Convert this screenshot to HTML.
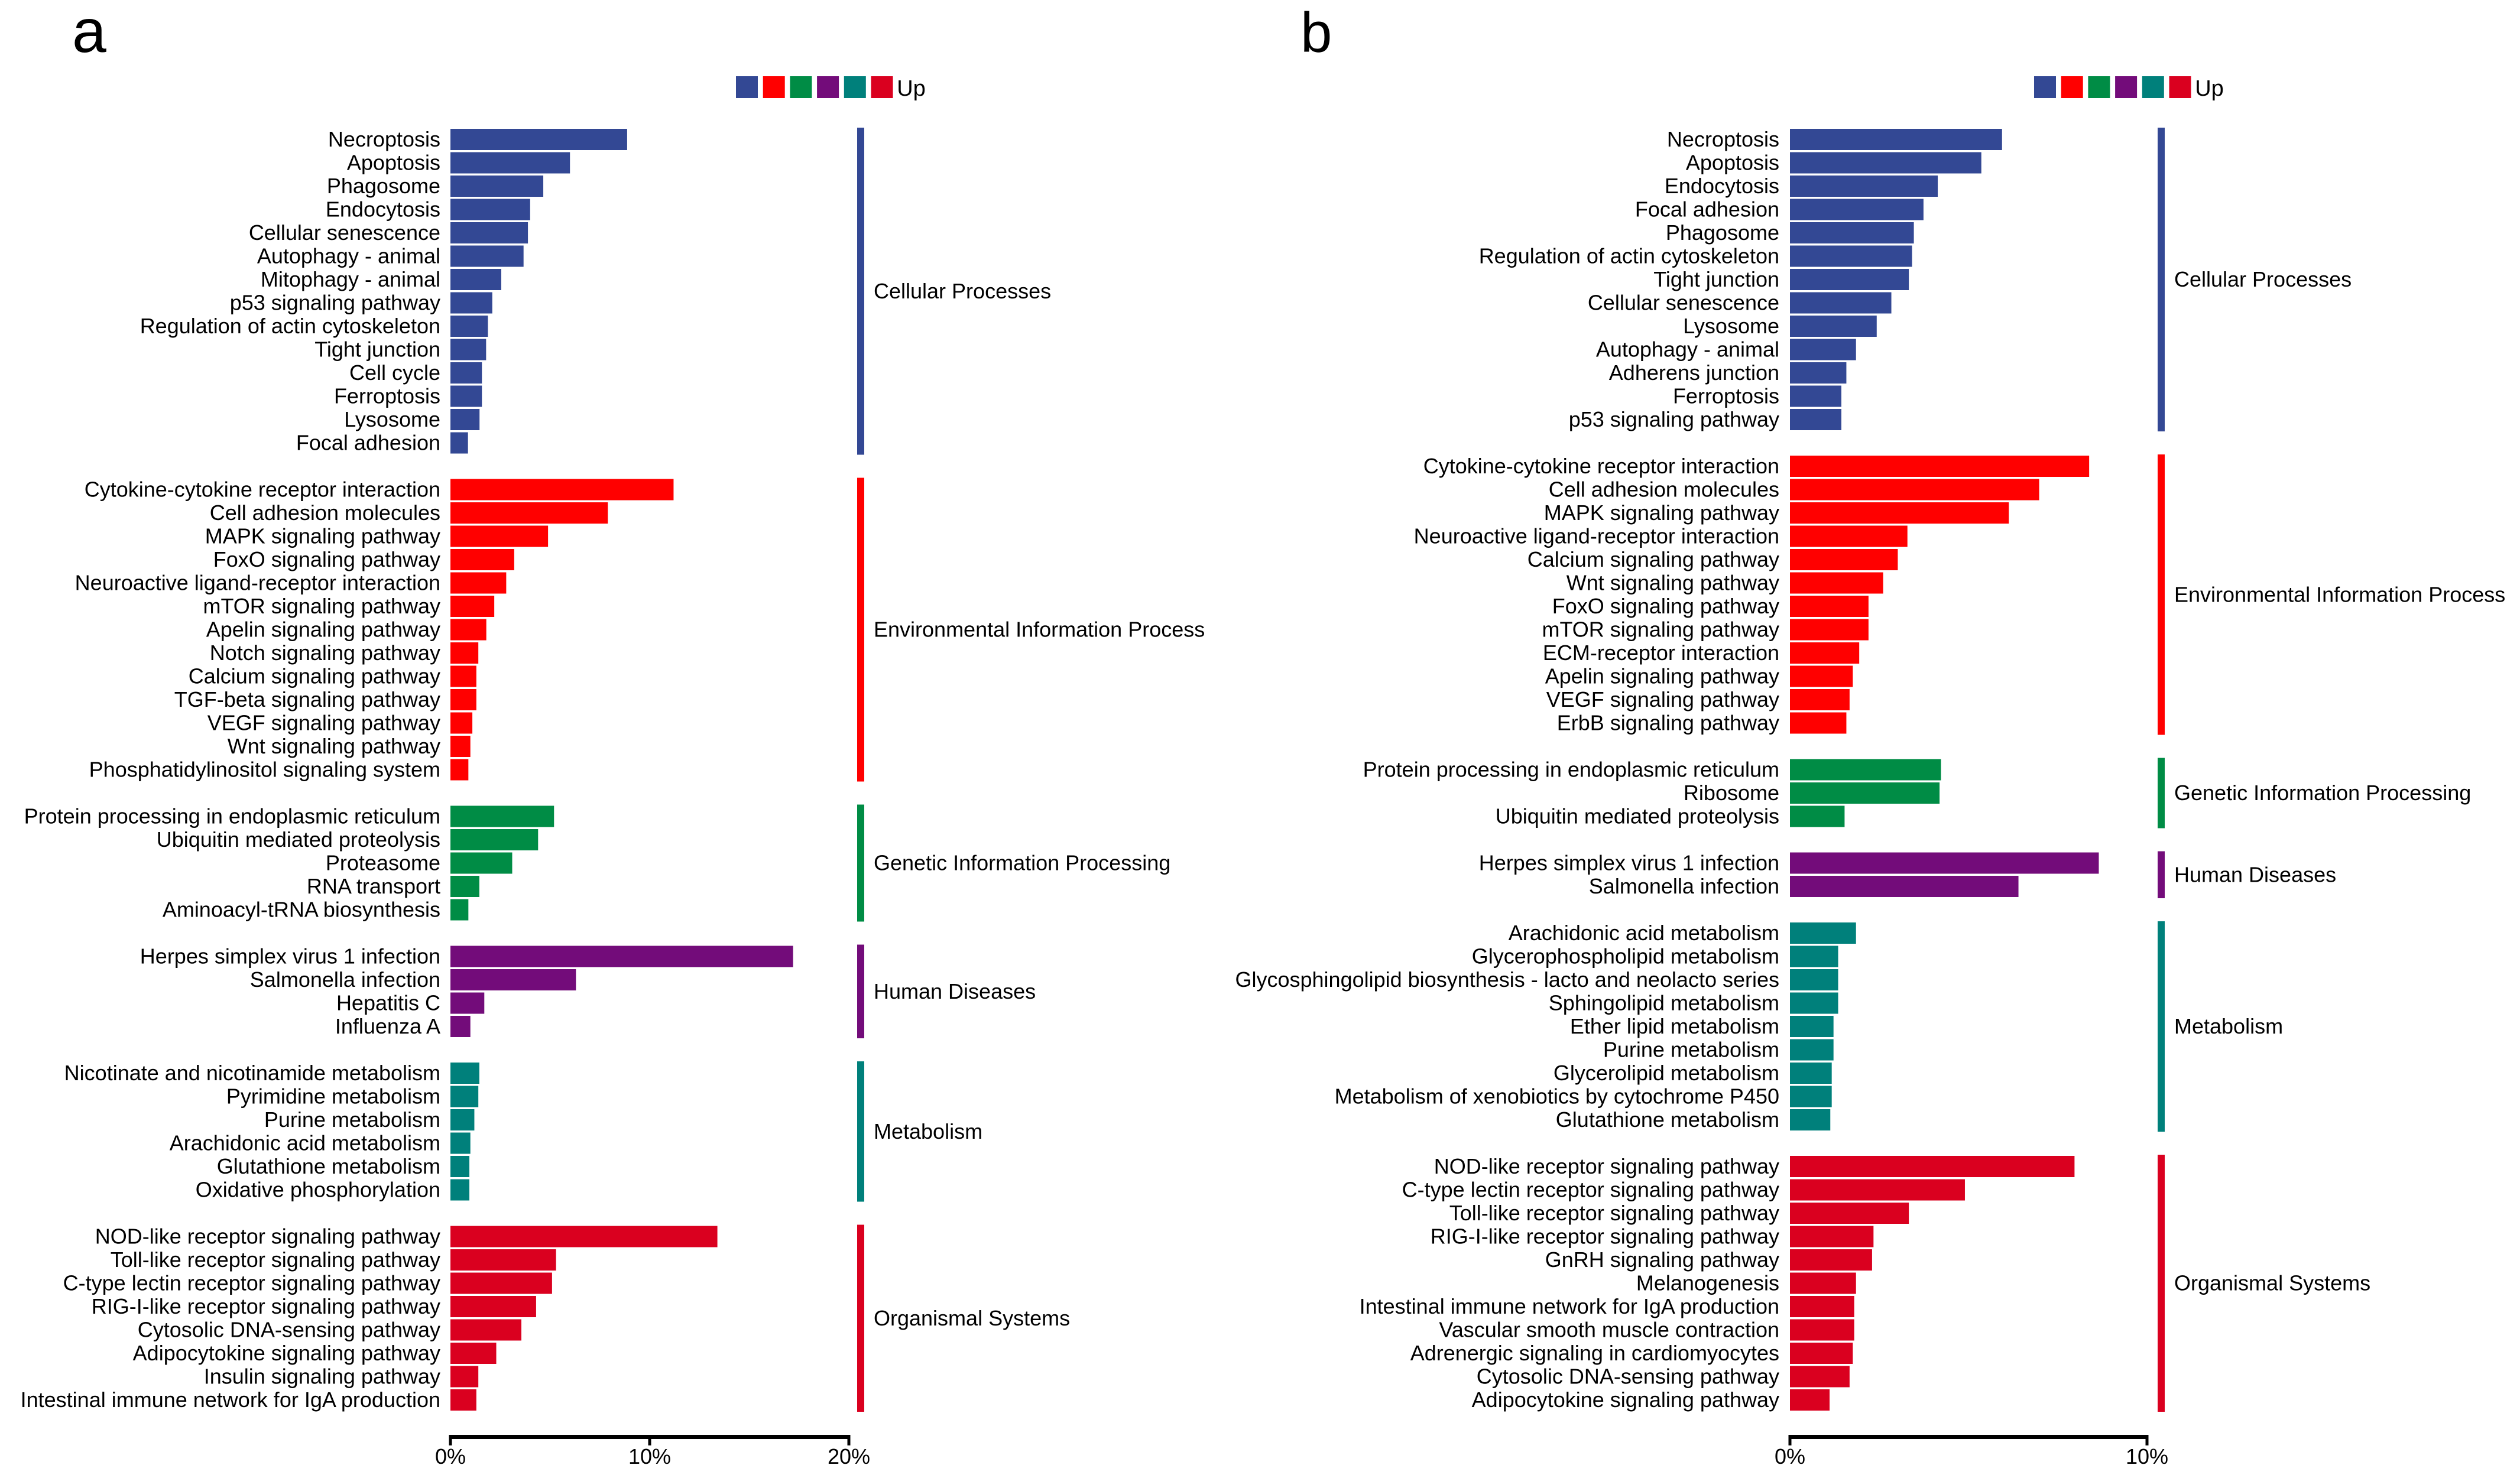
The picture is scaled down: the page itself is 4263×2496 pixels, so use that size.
<!DOCTYPE html>
<html><head><meta charset="utf-8">
<style>
html,body{margin:0;padding:0;background:#fff;}
svg{display:block;font-family:"Liberation Sans",Arial,sans-serif;}
</style></head>
<body>
<svg id="chart" width="4263" height="2496" viewBox="0 0 4263 2496" xmlns="http://www.w3.org/2000/svg">
<rect x="0" y="0" width="4263" height="2496" fill="#fff"/>
<text x="122" y="88" font-size="104" fill="#000">a</text>
<text x="2200" y="88" font-size="96" fill="#000">b</text>
</svg>
<script>
var groupNames = ["Cellular Processes","Environmental Information Process","Genetic Information Processing","Human Diseases","Metabolism","Organismal Systems"];
var groupColors = ["#334894","#FF0000","#008C45","#730C7A","#00807B","#DA001F"];

var aLabels = [
["Necroptosis","Apoptosis","Phagosome","Endocytosis","Cellular senescence","Autophagy - animal","Mitophagy - animal","p53 signaling pathway","Regulation of actin cytoskeleton","Tight junction","Cell cycle","Ferroptosis","Lysosome","Focal adhesion"],
["Cytokine-cytokine receptor interaction","Cell adhesion molecules","MAPK signaling pathway","FoxO signaling pathway","Neuroactive ligand-receptor interaction","mTOR signaling pathway","Apelin signaling pathway","Notch signaling pathway","Calcium signaling pathway","TGF-beta signaling pathway","VEGF signaling pathway","Wnt signaling pathway","Phosphatidylinositol signaling system"],
["Protein processing in endoplasmic reticulum","Ubiquitin mediated proteolysis","Proteasome","RNA transport","Aminoacyl-tRNA biosynthesis"],
["Herpes simplex virus 1 infection","Salmonella infection","Hepatitis C","Influenza A"],
["Nicotinate and nicotinamide metabolism","Pyrimidine metabolism","Purine metabolism","Arachidonic acid metabolism","Glutathione metabolism","Oxidative phosphorylation"],
["NOD-like receptor signaling pathway","Toll-like receptor signaling pathway","C-type lectin receptor signaling pathway","RIG-I-like receptor signaling pathway","Cytosolic DNA-sensing pathway","Adipocytokine signaling pathway","Insulin signaling pathway","Intestinal immune network for IgA production"]
];
var aValues = [
[8.87,6.0,4.66,4.0,3.89,3.67,2.55,2.1,1.88,1.79,1.58,1.58,1.46,0.88],
[11.2,7.9,4.9,3.2,2.8,2.2,1.8,1.4,1.3,1.3,1.1,1.0,0.9],
[5.2,4.4,3.1,1.45,0.9],
[17.2,6.3,1.7,1.0],
[1.45,1.4,1.2,1.0,0.95,0.95],
[13.4,5.3,5.1,4.3,3.56,2.3,1.4,1.3]
];
var aTicks = [0,10,20];

var bLabels = [
["Necroptosis","Apoptosis","Endocytosis","Focal adhesion","Phagosome","Regulation of actin cytoskeleton","Tight junction","Cellular senescence","Lysosome","Autophagy - animal","Adherens junction","Ferroptosis","p53 signaling pathway"],
["Cytokine-cytokine receptor interaction","Cell adhesion molecules","MAPK signaling pathway","Neuroactive ligand-receptor interaction","Calcium signaling pathway","Wnt signaling pathway","FoxO signaling pathway","mTOR signaling pathway","ECM-receptor interaction","Apelin signaling pathway","VEGF signaling pathway","ErbB signaling pathway"],
["Protein processing in endoplasmic reticulum","Ribosome","Ubiquitin mediated proteolysis"],
["Herpes simplex virus 1 infection","Salmonella infection"],
["Arachidonic acid metabolism","Glycerophospholipid metabolism","Glycosphingolipid biosynthesis - lacto and neolacto series","Sphingolipid metabolism","Ether lipid metabolism","Purine metabolism","Glycerolipid metabolism","Metabolism of xenobiotics by cytochrome P450","Glutathione metabolism"],
["NOD-like receptor signaling pathway","C-type lectin receptor signaling pathway","Toll-like receptor signaling pathway","RIG-I-like receptor signaling pathway","GnRH signaling pathway","Melanogenesis","Intestinal immune network for IgA production","Vascular smooth muscle contraction","Adrenergic signaling in cardiomyocytes","Cytosolic DNA-sensing pathway","Adipocytokine signaling pathway"]
];
var bValues = [
[5.94,5.36,4.14,3.74,3.47,3.42,3.33,2.84,2.43,1.85,1.58,1.44,1.44],
[8.38,6.98,6.13,3.29,3.02,2.61,2.2,2.2,1.94,1.76,1.67,1.58],
[4.23,4.19,1.53],
[8.65,6.4],
[1.85,1.35,1.35,1.35,1.22,1.22,1.17,1.17,1.13],
[7.97,4.9,3.33,2.34,2.3,1.85,1.8,1.8,1.76,1.67,1.11]
];
var bTicks = [0,10];

var NS = "http://www.w3.org/2000/svg";
var svg = document.getElementById("chart");
function mk(tag, attrs, parent){
  var e = document.createElementNS(NS, tag);
  for (var k in attrs) e.setAttribute(k, attrs[k]);
  (parent||svg).appendChild(e);
  return e;
}
var ROW0 = 236, PITCH = 39.5, BARH = 36;
function yRow(i){ return ROW0 + i*PITCH; }

function panel(id, labels, values, ticks, x0, pxPer, labelRight, lineX, legendX, axisMax){
  var g = mk("g", {});
  
  
  function xs(v){ return x0 + v*pxPer; }
  for (var c=0;c<groupColors.length;c++){
    var sq = mk("rect",{x:legendX + c*45.7, y:129, width:37, height:37, fill:groupColors[c]}, g);
    
    
  }
  var up = mk("text",{x:legendX + 6*45.7 - 2, y:162, "font-size":38, fill:"#000"}, g);
  up.textContent = "Up";
  
  
  var slot = 0;
  for (var gi=0; gi<labels.length; gi++){
    var start = slot;
    for (var r=0; r<labels[gi].length; r++){
      var yc = yRow(slot);
      var bar = mk("rect",{x:xs(0), y:yc-BARH/2, width:Math.max(0,xs(values[gi][r])-xs(0)), height:BARH, fill:groupColors[gi]}, g);
      
      
      var t = mk("text",{x:labelRight, y:yc+12, "font-size":36, "text-anchor":"end", fill:"#000"}, g);
      t.textContent = labels[gi][r];
      
      
      slot++;
    }
    var end = slot-1;
    var top = yRow(start)-BARH/2-2, bot = yRow(end)+BARH/2+2;
    var ln = mk("rect",{x:lineX-6, y:top, width:12, height:bot-top, fill:groupColors[gi]}, g);
    
    
    var gl = mk("text",{x:lineX+22, y:(top+bot)/2+12, "font-size":36, fill:"#000"}, g);
    gl.textContent = groupNames[gi];
    
    
    slot++;
  }
  var ax = mk("rect",{x:xs(0)-2, y:2428, width:xs(axisMax)-xs(0)+4, height:7, fill:"#000"}, g);
  
  
  for (var k=0;k<ticks.length;k++){
    var tk = mk("rect",{x:xs(ticks[k])-2.5, y:2428, width:5, height:18, fill:"#000"}, g);
    
    
    var tl = mk("text",{x:xs(ticks[k]), y:2477, "font-size":36, "text-anchor":"middle", fill:"#000"}, g);
    tl.textContent = ticks[k] + "%";
    
    
  }
}
panel("a", aLabels, aValues, aTicks, 762, 33.7, 745, 1456, 1245, 20);
panel("b", bLabels, bValues, bTicks, 3028, 60.4, 3010, 3656, 3441, 10);
</script>
</body></html>
